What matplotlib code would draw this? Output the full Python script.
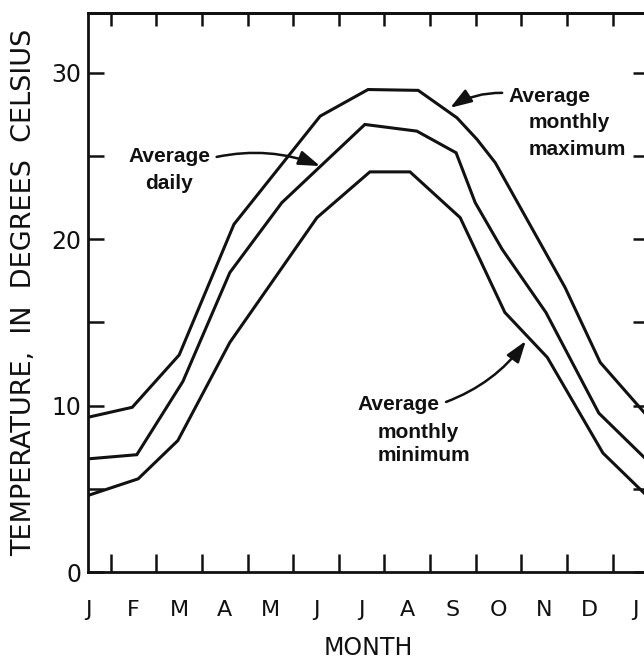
import matplotlib
matplotlib.use('Agg')
import matplotlib.pyplot as plt
from matplotlib.ticker import MultipleLocator

# month letters at month starts, J .. J
months = ['J', 'F', 'M', 'A', 'M', 'J', 'J', 'A', 'S', 'O', 'N', 'D', 'J']

# curves: x in months from 1 Jan, y in deg C
max_x = [0, 0.97, 2.0, 3.2, 5.09, 6.14, 7.24, 8.09, 8.53, 8.93, 10.46, 11.23, 12.19]
max_t = [9.3, 9.9, 13.05, 20.9, 27.4, 29.0, 28.95, 27.3, 26.0, 24.6, 17.1, 12.6, 9.6]

daily_x = [0, 1.07, 2.08, 3.11, 4.25, 6.07, 7.21, 8.07, 8.49, 9.08, 10.04, 11.2, 12.19]
daily_t = [6.8, 7.05, 11.45, 18.0, 22.2, 26.9, 26.5, 25.2, 22.2, 19.4, 15.6, 9.55, 6.9]

min_x = [0, 1.1, 1.97, 3.11, 5.02, 6.18, 7.06, 8.16, 9.14, 10.07, 11.29, 12.19]
min_t = [4.6, 5.6, 7.9, 13.8, 21.3, 24.05, 24.05, 21.3, 15.6, 12.9, 7.15, 4.75]

ink = '#111111'
lab_font = ['Liberation Sans', 'DejaVu Sans']

fig = plt.figure(figsize=(6.44, 6.59), dpi=100)
ax = fig.add_axes([88 / 644, 1 - 572 / 659, 561 / 644, 559 / 659])

for xs, ts in [(max_x, max_t), (daily_x, daily_t), (min_x, min_t)]:
    ax.plot(xs, ts, color=ink, lw=2.2, solid_joinstyle='miter')

ax.set_xlim(0, 12.3)
ax.set_ylim(0, 33.6)

for s in ax.spines.values():
    s.set_linewidth(2.0)
    s.set_color(ink)

# month letters, ticks sit between them
ax.set_xticks(range(len(months)))
ax.set_xticklabels(months)
ax.set_xticks([m + 0.5 for m in range(12)], minor=True)
ax.tick_params(axis='x', which='major', length=0, pad=20, labelsize=16, colors=ink)
ax.tick_params(axis='x', which='minor', direction='in', length=13, width=1.8,
               bottom=True, top=False, color=ink)

top = ax.secondary_xaxis('top')
top.set_xticks([m + 0.5 for m in range(12)])
top.tick_params(direction='in', length=9.5, width=1.8, labeltop=False, color=ink)
top.spines['top'].set_linewidth(2.0)

ax.yaxis.set_major_locator(MultipleLocator(10))
ax.yaxis.set_minor_locator(MultipleLocator(5))
ax.tick_params(axis='y', which='both', direction='in', length=11.5, width=1.8,
               left=True, right=True, color=ink)
ax.tick_params(axis='y', which='major', pad=5, labelsize=17, labelcolor=ink)

ax.set_ylabel('TEMPERATURE,  IN  DEGREES  CELSIUS', fontsize=19.5, color=ink, labelpad=10)
ax.set_xlabel('MONTH', fontsize=17, color=ink, labelpad=12)

# labels and arrows
tf = dict(fontsize=15, fontweight='bold', family=lab_font, color=ink)
ax.text(1.78, 24.65, 'Average', ha='center', va='baseline', **tf)
ax.text(1.78, 23.0, 'daily', ha='center', va='baseline', **tf)

ax.text(9.21, 28.26, 'Average', ha='left', va='baseline', **tf)
ax.text(9.67, 26.7, 'monthly', ha='left', va='baseline', **tf)
ax.text(9.67, 25.07, 'maximum', ha='left', va='baseline', **tf)

ax.text(5.9, 9.74, 'Average', ha='left', va='baseline', **tf)
ax.text(6.36, 8.06, 'monthly', ha='left', va='baseline', **tf)
ax.text(6.36, 6.67, 'minimum', ha='left', va='baseline', **tf)

arrow = dict(arrowstyle='-|>,head_length=0.65,head_width=0.22', lw=1.8, color=ink,
             mutation_scale=20, shrinkA=0, shrinkB=0)
ax.annotate('', xy=(5.09, 24.4), xytext=(2.82, 24.95),
            arrowprops=dict(arrow, connectionstyle='arc3,rad=-0.15'))
ax.annotate('', xy=(7.94, 27.9), xytext=(9.08, 28.8),
            arrowprops=dict(arrow, connectionstyle='arc3,rad=0.15'))
ax.annotate('', xy=(9.6, 13.89), xytext=(7.85, 10.22),
            arrowprops=dict(arrow, connectionstyle='arc3,rad=0.15'))

fig.savefig('out.png', dpi=100)
